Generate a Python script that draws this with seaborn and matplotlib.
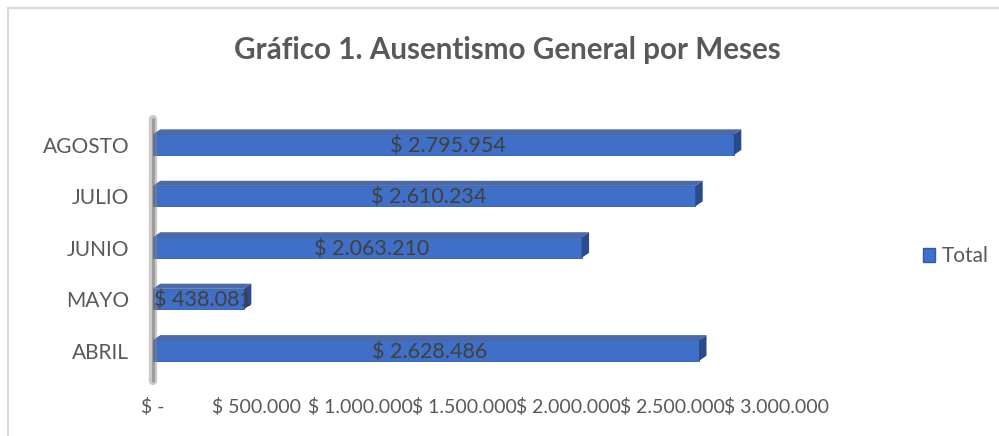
# Gráfico 1 - ausentismo general por meses
import matplotlib
matplotlib.use("Agg")
import matplotlib.pyplot as plt
import matplotlib.patches as mpatches
import matplotlib.lines as mlines
import seaborn as sns
import pandas as pd

meses = ["AGOSTO", "JULIO", "JUNIO", "MAYO", "ABRIL"]
totales = [2795954, 2610234, 2063210, 438081, 2628486]
ticks = [0, 500000, 1000000, 1500000, 2000000, 2500000, 3000000]

def pesos(v):
    if v == 0:
        return "$ -"
    return "$ " + f"{v:,.0f}".replace(",", ".")

df = pd.DataFrame({"mes": meses, "total": totales})

sns.set_style("white")
plt.rcParams["font.family"] = ["Lato", "DejaVu Sans"]

fig = plt.figure(figsize=(9.99, 4.36), dpi=100)
ax = fig.add_axes([0.153, 0.137, 0.624, 0.59])

sns.barplot(data=df, x="total", y="mes", orient="h", color="#3f6fc6",
            width=0.4, saturation=1, ax=ax, edgecolor="#2f5aa8", linewidth=0.6)
ax.set_xlim(0, 3000000)

# fake 3d: top face and side face taken from each bar
for bar in ax.patches:
    x0, y0 = bar.get_x(), bar.get_y()
    w, h = bar.get_width(), bar.get_height()
    dx = 3000000 * 0.012
    dy = 0.1
    top = mpatches.Polygon([(x0, y0), (x0 + dx, y0 - dy), (x0 + w + dx, y0 - dy), (x0 + w, y0)],
                           closed=True, facecolor="#4d6aa6", edgecolor="none", clip_on=False)
    side = mpatches.Polygon([(x0 + w, y0), (x0 + w + dx, y0 - dy), (x0 + w + dx, y0 + h - dy), (x0 + w, y0 + h)],
                            closed=True, facecolor="#2b4a8c", edgecolor="none", clip_on=False)
    ax.add_patch(top)
    ax.add_patch(side)

for i, v in enumerate(totales):
    ax.text(v / 2 + 20000, i + 0.03, pesos(v), ha="center", va="center", fontsize=15.5, color="#404040")

# gray wall on the left
ax.axvline(0, color="#8a8a8a", linewidth=6, alpha=0.45, ymin=-0.02, ymax=1.0, clip_on=False)
ax.axvline(0, color="#6a6a6a", linewidth=2, alpha=0.5, ymin=-0.02, ymax=1.0, clip_on=False)

ax.set_xticks(ticks)
ax.set_xticklabels([pesos(t) for t in ticks], fontsize=14, color="#595959")
ax.tick_params(axis="y", labelsize=15, labelcolor="#595959", pad=17, length=0)
ax.tick_params(axis="x", length=0, pad=16)
ax.set_xlabel("")
ax.set_ylabel("")
sns.despine(ax=ax, left=True, bottom=True)

fig.text(0.508, 0.885, "Gráfico 1. Ausentismo General por Meses", ha="center", va="center",
         fontsize=21.3, fontweight="bold", color="#595959")

handle = mpatches.Patch(facecolor="#3f6fc6", edgecolor="#2f5aa8", label="Total")
fig.legend(handles=[handle], loc="center left", bbox_to_anchor=(0.905, 0.412), frameon=False,
           fontsize=15, labelcolor="#595959", handlelength=0.6, handleheight=0.6, handletextpad=0.3)

# chart frame (top and left edges visible)
fig.lines.append(mlines.Line2D([8 / 999, 1.0], [1 - 8 / 436, 1 - 8 / 436], transform=fig.transFigure,
                               color="#d9d9d9", linewidth=1.5))
fig.lines.append(mlines.Line2D([8 / 999, 8 / 999], [0.0, 1 - 8 / 436], transform=fig.transFigure,
                               color="#d9d9d9", linewidth=1.5))

fig.savefig("out.png", dpi=100)
